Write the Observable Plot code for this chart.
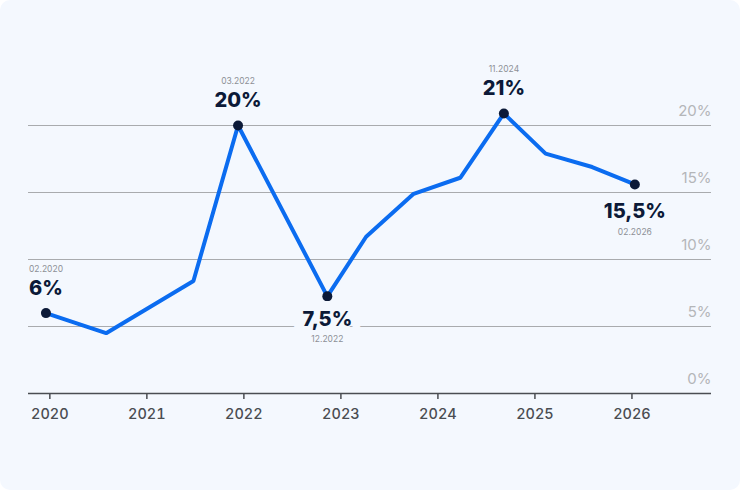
<!DOCTYPE html>
<html>
<head>
<meta charset="utf-8">
<script src="https://cdn.jsdelivr.net/npm/d3@7"></script>
<script src="https://cdn.jsdelivr.net/npm/@observablehq/plot@0.6"></script>
<style>
  html, body { margin: 0; padding: 0; background: #ffffff; }
  #card { width: 740px; height: 490px; background: #f4f8fe; border-radius: 10px; overflow: hidden; }
  svg { display: block; background: transparent; }
</style>
</head>
<body>
<div id="card"></div>
<script>
// Data
const years = [2020, 2021, 2022, 2023, 2024, 2025, 2026];
const lineX = [2019.96, 2020.58, 2021.48, 2021.94, 2022.86, 2023.26, 2023.75, 2024.23, 2024.68, 2025.11, 2025.59, 2026.03];
const lineY = [6.0, 4.5, 8.4, 20.0, 7.25, 11.7, 14.9, 16.1, 20.9, 17.9, 16.9, 15.6];
const yTicks = [0, 5, 10, 15, 20];
const yTickLabels = ["0%", "5%", "10%", "15%", "20%"];
const annIndex = [0, 3, 4, 8, 11];
const annValue = ["6%", "20%", "7,5%", "21%", "15,5%"];
const annDate = ["02.2020", "03.2022", "12.2022", "11.2024", "02.2026"];
const annSide = ["above", "above", "below", "above", "below"];
const annHalo = [false, false, true, false, false];

const points = lineX.map((x, i) => ({x, y: lineY[i]}));
const ann = annIndex.map((k, i) => ({
  x: lineX[k], y: lineY[k], value: annValue[i], date: annDate[i], side: annSide[i], halo: annHalo[i]
}));
const above = ann.filter(d => d.side === "above");
const below = ann.filter(d => d.side === "below");
const ticks = yTicks.map((v, i) => ({v, label: yTickLabels[i]}));

const BG = "#f4f8fe";
const NAVY = "#0c1a38";
const FONT = "Inter, 'Noto Sans', sans-serif";

const chart = Plot.plot({
  width: 740,
  height: 490,
  marginTop: 0,
  marginLeft: 28,
  marginRight: 29,
  marginBottom: 97,
  style: {fontFamily: FONT, background: "transparent", overflow: "visible"},
  x: {domain: [2019.78, 2026.82], axis: null},
  y: {domain: [0, 393 / 13.4], axis: null},
  marks: [
    Plot.ruleY(yTicks.filter(v => v > 0), {stroke: "#a9abae", strokeWidth: 1}),
    Plot.text(ticks, {
      y: "v", text: "label", frameAnchor: "right", textAnchor: "end", dy: -14,
      fill: "#b4b6b9", fontSize: 15, fontWeight: 400
    }),
    Plot.axisX({
      ticks: years, tickFormat: d => String(d), tickSize: 6, tickPadding: 9, label: null,
      fontSize: 14.5, fontWeight: 500, color: "#4a4d52", stroke: "#4a4d52", strokeWidth: 1.5
    }),
    Plot.ruleY([0], {stroke: "#4a4d52", strokeWidth: 1.6}),
    Plot.line(points, {x: "x", y: "y", stroke: "#0b6cf0", strokeWidth: 4, strokeLinejoin: "miter", strokeLinecap: "round"}),
    Plot.dot(ann, {x: "x", y: "y", r: 5, fill: NAVY, stroke: null}),
    // above labels
    Plot.text(above, {x: "x", y: "y", text: "value", dy: -25, fill: NAVY, fontSize: 20, fontWeight: 800}),
    Plot.text(above, {x: "x", y: "y", text: "date", dy: -44, fill: "#8d9096", fontSize: 8.5, fontWeight: 400}),
    // below labels
    Plot.text(below.filter(d => d.halo), {x: "x", y: "y", text: "value", dy: 23, fill: NAVY, stroke: BG, strokeWidth: 20, fontSize: 20, fontWeight: 800}),
    Plot.text(below.filter(d => !d.halo), {x: "x", y: "y", text: "value", dy: 27, fill: NAVY, fontSize: 20, fontWeight: 800}),
    Plot.text(below.filter(d => d.halo), {x: "x", y: "y", text: "date", dy: 43, fill: "#8d9096", fontSize: 8.5, fontWeight: 400}),
    Plot.text(below.filter(d => !d.halo), {x: "x", y: "y", text: "date", dy: 48, fill: "#8d9096", fontSize: 8.5, fontWeight: 400})
  ]
});
document.getElementById("card").appendChild(chart);
</script>
</body>
</html>
